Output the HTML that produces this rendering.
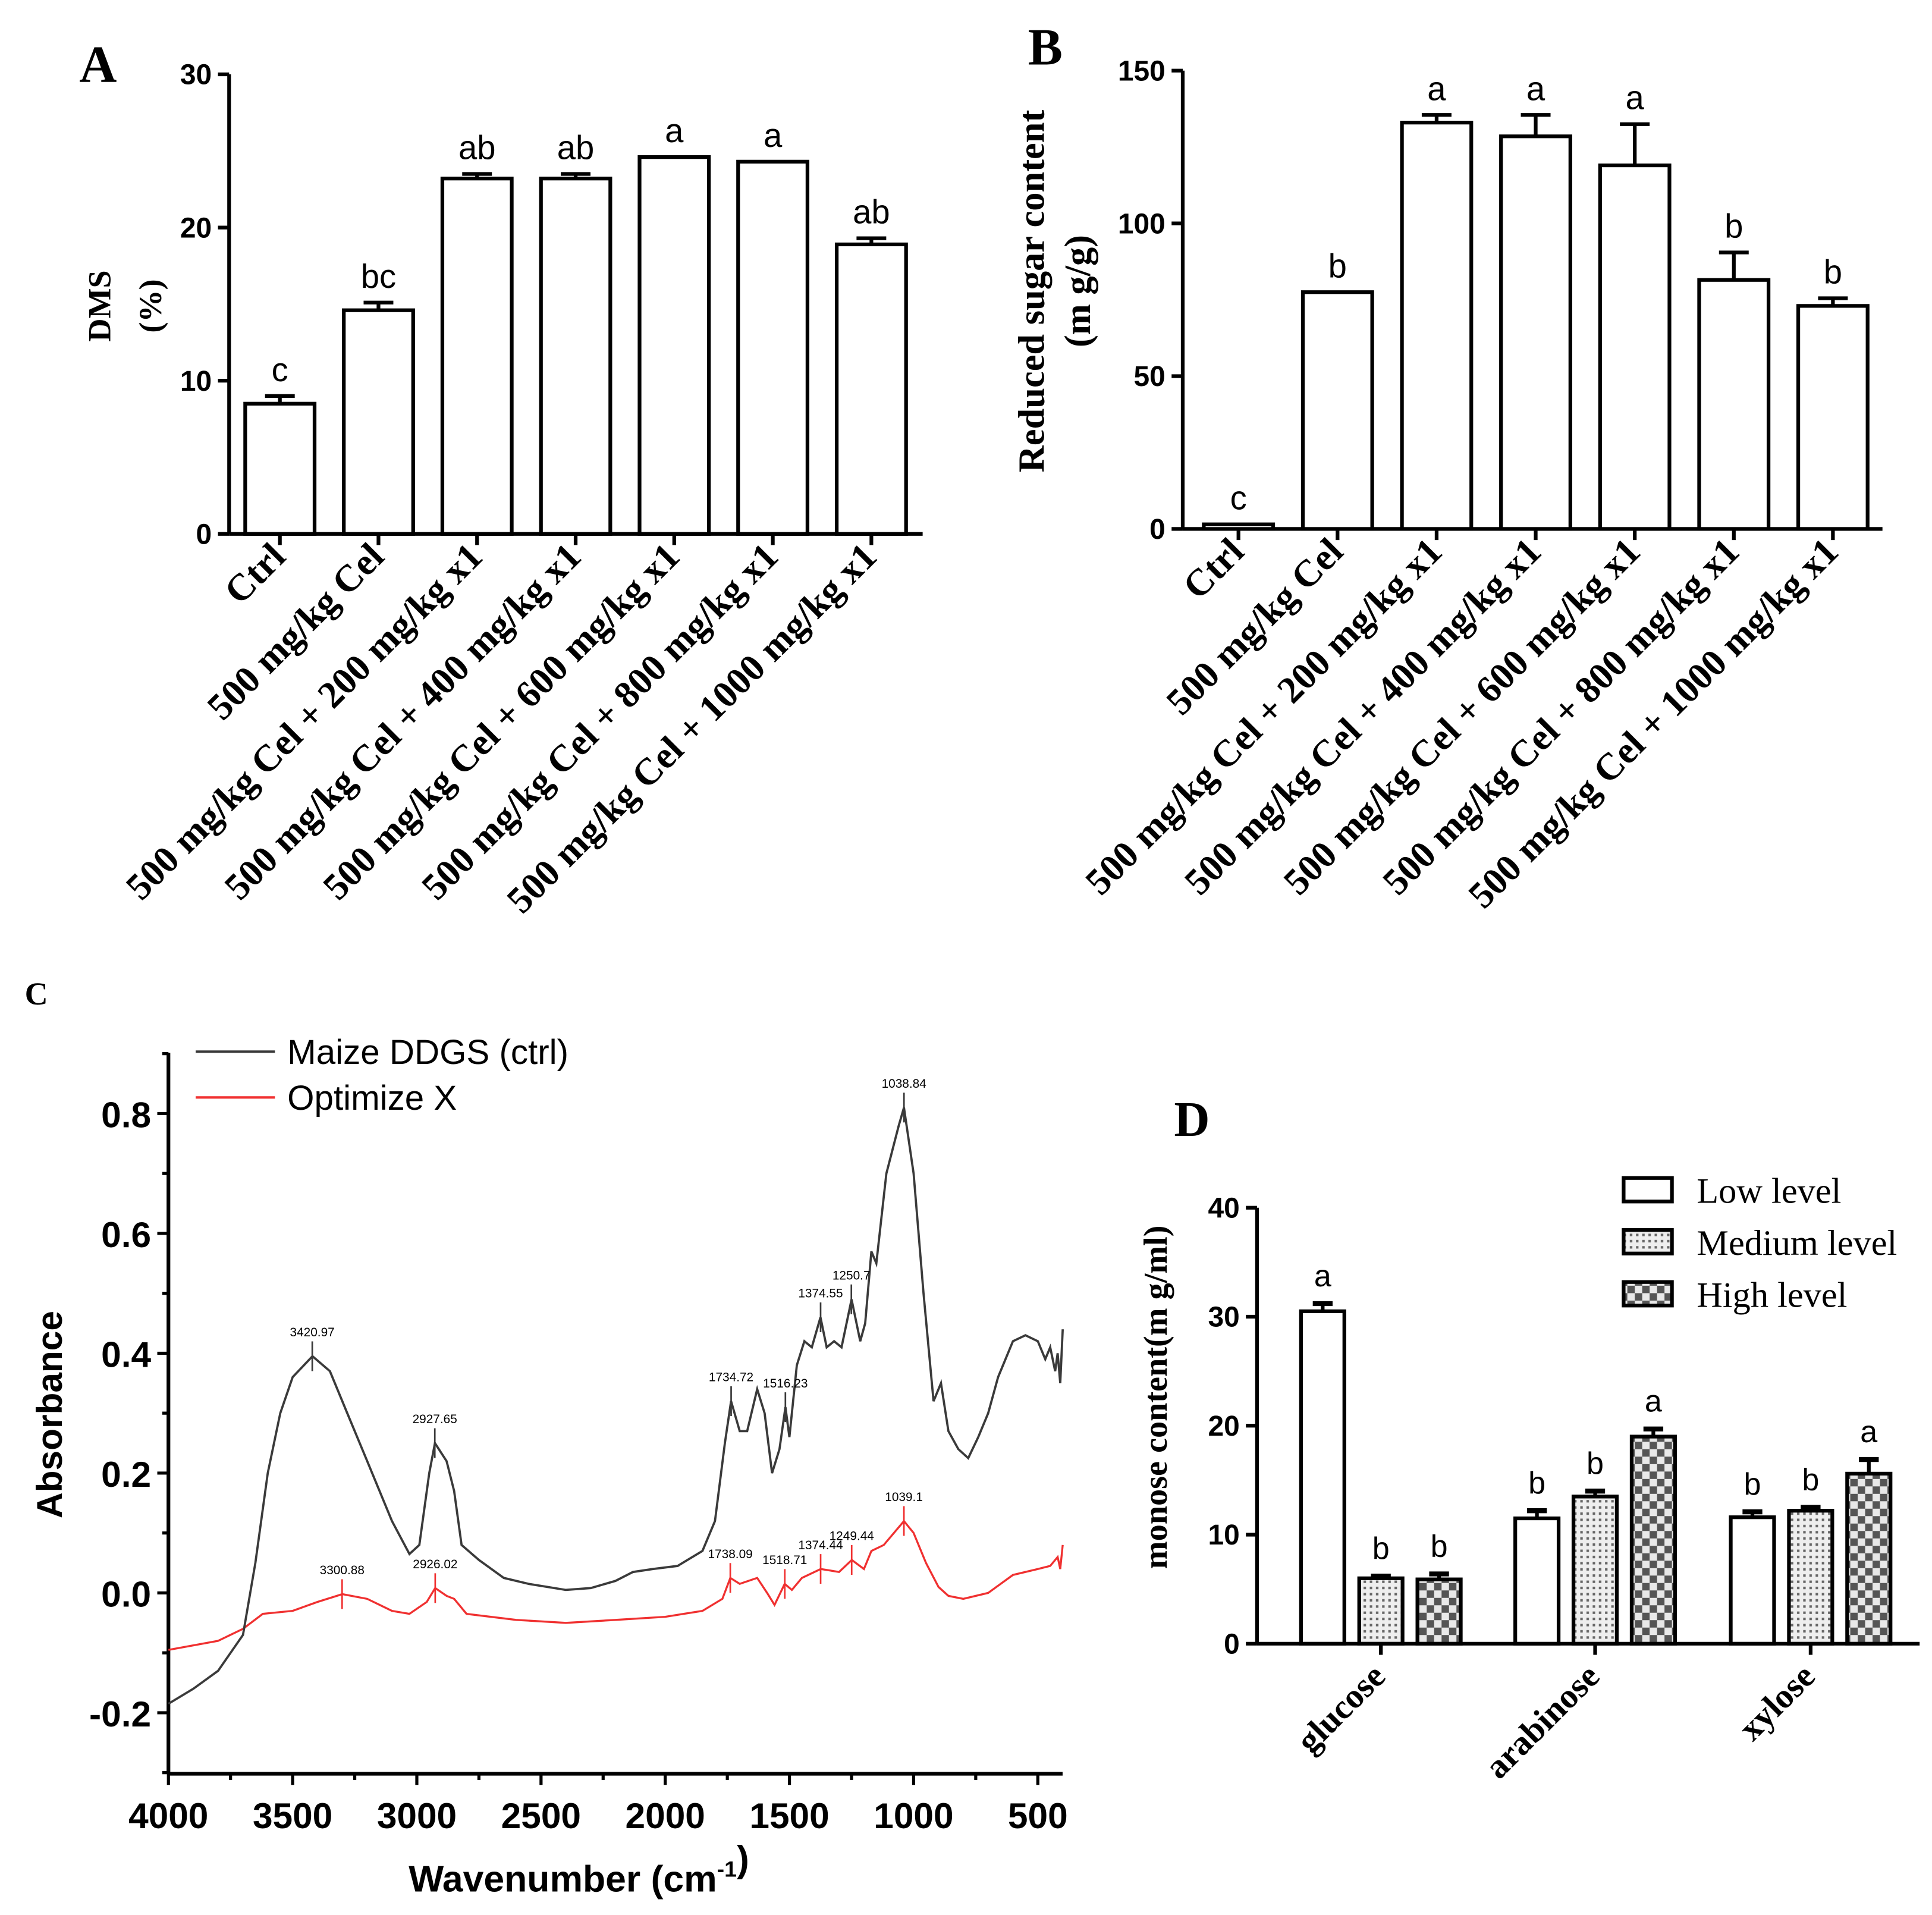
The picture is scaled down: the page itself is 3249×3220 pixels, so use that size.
<!DOCTYPE html>
<html><head><meta charset="utf-8">
<style>
html,body{margin:0;padding:0;background:#fff;}
svg{display:block;}
</style></head>
<body>
<svg id="fig" xmlns="http://www.w3.org/2000/svg" width="3249" height="3220" viewBox="0 0 1560 1546">
<defs>
<pattern id="patMed" patternUnits="userSpaceOnUse" width="5" height="5">
<rect width="5" height="5" fill="#eee"/><rect x="1" y="1" width="2" height="2" fill="#666"/>
</pattern>
<pattern id="patHigh" patternUnits="userSpaceOnUse" width="12" height="12">
<rect width="12" height="12" fill="#e8e8e8"/><rect x="0" y="0" width="6" height="6" fill="#555"/><rect x="6" y="6" width="6" height="6" fill="#555"/>
</pattern>
</defs>
<g id="root"></g>
</svg>
<script>
// ---- Panel A data ----
const catsAB = ["Ctrl","500 mg/kg Cel","500 mg/kg Cel + 200 mg/kg x1","500 mg/kg Cel + 400 mg/kg x1","500 mg/kg Cel + 600 mg/kg x1","500 mg/kg Cel + 800 mg/kg x1","500 mg/kg Cel + 1000 mg/kg x1"];
const valsA = [8.5,14.6,23.2,23.2,24.6,24.3,18.9];
const errA = [0.5,0.5,0.3,0.3,0,0,0.4];
const lettersA = ["c","bc","ab","ab","a","a","ab"];
const ticksA = [0,10,20,30];
// ---- Panel B data ----
const valsB = [1.5,77.5,133,128.5,119,81.5,73];
const errB = [0,0,2.5,7,13.5,9,2.5];
const lettersB = ["c","b","a","a","a","b","b"];
const ticksB = [0,50,100,150];
// ---- Panel C data ----
const ticksCx = [4000,3500,3000,2500,2000,1500,1000,500];
const ticksCy = [-0.2,0.0,0.2,0.4,0.6,0.8];
const ctrlWN = [4000,3900,3800,3700,3650,3600,3550,3500,3420,3350,3280,3200,3100,3030,2990,2950,2927,2880,2850,2820,2750,2650,2550,2400,2300,2200,2130,2050,1950,1850,1800,1760,1735,1700,1670,1630,1600,1570,1540,1516,1500,1470,1440,1410,1375,1350,1320,1290,1250,1215,1195,1170,1150,1110,1060,1039,1000,960,920,890,860,820,780,740,700,660,600,550,500,470,450,430,420,410,400];
const ctrlAbs = [-0.185,-0.16,-0.13,-0.07,0.05,0.2,0.3,0.36,0.395,0.37,0.3,0.22,0.12,0.065,0.08,0.2,0.25,0.22,0.17,0.08,0.055,0.025,0.015,0.005,0.008,0.02,0.035,0.04,0.045,0.07,0.12,0.25,0.32,0.27,0.27,0.34,0.3,0.2,0.24,0.31,0.26,0.38,0.42,0.41,0.46,0.41,0.42,0.41,0.49,0.42,0.45,0.57,0.55,0.7,0.78,0.81,0.7,0.5,0.32,0.35,0.27,0.24,0.225,0.26,0.3,0.36,0.42,0.43,0.42,0.39,0.41,0.37,0.4,0.35,0.44];
const optWN = [4000,3800,3700,3620,3500,3400,3300,3200,3100,3030,2960,2926,2880,2850,2800,2600,2400,2200,2000,1850,1770,1738,1700,1630,1590,1560,1519,1490,1450,1374,1300,1249,1200,1170,1120,1039,1000,950,900,860,800,700,600,500,450,420,410,400];
const optAbs = [-0.095,-0.08,-0.06,-0.035,-0.03,-0.015,-0.002,-0.01,-0.03,-0.035,-0.015,0.008,-0.005,-0.01,-0.035,-0.045,-0.05,-0.045,-0.04,-0.03,-0.01,0.025,0.015,0.025,0.0,-0.02,0.015,0.005,0.025,0.04,0.035,0.055,0.04,0.07,0.08,0.12,0.1,0.05,0.01,-0.005,-0.01,0.0,0.03,0.04,0.045,0.06,0.04,0.08];
const peaksCtrl = [3420.97,2927.65,1734.72,1516.23,1374.55,1250.7,1038.84];
const peaksCtrlY = [0.395,0.25,0.32,0.31,0.46,0.49,0.81];
const peaksOpt = [3300.88,2926.02,1738.09,1518.71,1374.44,1249.44,1039.1];
const peaksOptY = [-0.002,0.008,0.025,0.015,0.04,0.055,0.12];
// ---- Panel D data ----
const catsD = ["glucose","arabinose","xylose"];
const lowD = [30.5,11.5,11.6];
const medD = [6.0,13.5,12.2];
const highD = [5.9,19.0,15.6];
const lowErr = [0.7,0.7,0.5];
const medErr = [0.2,0.5,0.3];
const highErr = [0.5,0.7,1.3];
const lowLet = ["a","b","b"], medLet = ["b","b","b"], highLet = ["b","a","a"];
const ticksD = [0,10,20,30,40];

const NS = "http://www.w3.org/2000/svg";
const root = document.getElementById("root");
function mk(tag, attrs, parent, text){
  const e = document.createElementNS(NS, tag);
  for (const k in attrs) e.setAttribute(k, attrs[k]);
  if (text !== undefined) e.textContent = text;
  (parent||root).appendChild(e);
  return e;
}
const SANS='"Liberation Sans",Arial,sans-serif', SERIF='"Liberation Serif","Times New Roman",serif';

function barPanel(o){
  const g = mk("g",{});
  
  
  const y = v => o.y0 - v * (o.y0 - o.yTop) / o.yMax;
  const ya = mk("line",{x1:o.ax,y1:o.yTop,x2:o.ax,y2:o.y0,stroke:"#000","stroke-width":3},g);
  
  
  const xa = mk("line",{x1:o.ax,y1:o.y0,x2:o.axEnd,y2:o.y0,stroke:"#000","stroke-width":3},g);
  
  
  o.ticks.forEach(t=>{
    mk("line",{x1:o.ax-9,y1:y(t),x2:o.ax,y2:y(t),stroke:"#000","stroke-width":3},g);
    const tl = mk("text",{x:o.ax-14,y:y(t)+8,"text-anchor":"end","font-family":SANS,"font-weight":"bold","font-size":23},g,String(t));
    
    
  });
  o.vals.forEach((v,i)=>{
    const cx = o.x0 + i*o.step;
    const b = mk("rect",{x:cx-o.bw/2,y:y(v),width:o.bw,height:o.y0-y(v),fill:"#fff",stroke:"#000","stroke-width":3},g);
    
    
    if (o.err[i]>0){
      mk("line",{x1:cx,y1:y(v),x2:cx,y2:y(v+o.err[i]),stroke:"#000","stroke-width":3},g);
      mk("line",{x1:cx-12,y1:y(v+o.err[i]),x2:cx+12,y2:y(v+o.err[i]),stroke:"#000","stroke-width":3},g);
    }
    const lt = mk("text",{x:cx,y:y(v+o.err[i])-12,"text-anchor":"middle","font-family":SANS,"font-size":27},g,o.letters[i]);
    
    
    mk("line",{x1:cx,y1:o.y0,x2:cx,y2:o.y0+9,stroke:"#000","stroke-width":3},g);
    const cl = mk("text",{transform:`translate(${cx+6},${o.y0+20}) rotate(-45)`,"text-anchor":"end","font-family":SERIF,"font-weight":"bold","font-size":30.5},g,o.cats[i]);
    
    
  });
  return g;
}

barPanel({name:"panel-a-chart",ax:185,axEnd:745,yTop:60,y0:431,yMax:30,ticks:ticksA,vals:valsA,err:errA,letters:lettersA,cats:catsAB,x0:226,step:79.6,bw:56});
let t;
t = mk("text",{x:64,y:66,"font-family":SERIF,"font-weight":"bold","font-size":42},root,"A");
 
t = mk("text",{transform:"translate(89,247) rotate(-90)","text-anchor":"middle","font-family":SERIF,"font-weight":"bold","font-size":26},root,"DMS");
 
t = mk("text",{transform:"translate(130,247) rotate(-90)","text-anchor":"middle","font-family":SERIF,"font-weight":"bold","font-size":26},root,"(%)");
 

barPanel({name:"panel-b-chart",ax:955,axEnd:1520,yTop:57,y0:427,yMax:150,ticks:ticksB,vals:valsB,err:errB,letters:lettersB,cats:catsAB,x0:1000,step:80,bw:56});
t = mk("text",{x:830,y:52,"font-family":SERIF,"font-weight":"bold","font-size":42},root,"B");
 
t = mk("text",{transform:"translate(843,235) rotate(-90)","text-anchor":"middle","font-family":SERIF,"font-weight":"bold","font-size":30},root,"Reduced sugar content");
 
t = mk("text",{transform:"translate(880,235) rotate(-90)","text-anchor":"middle","font-family":SERIF,"font-weight":"bold","font-size":30},root,"(m g/g)");
 

// Panel C
(function(){
  const g = mk("g",{});
  
  
  const L=136, R=858, B=1432, T=850;
  const xs = w => L + (4000 - w) * (838-136)/3500;
  const ys = a => 1286 - a * (1286-899)/0.8;
  let e = mk("line",{x1:L,y1:T,x2:L,y2:B,stroke:"#000","stroke-width":3},g);
   
  e = mk("line",{x1:L,y1:B,x2:R,y2:B,stroke:"#000","stroke-width":3},g);
   
  for (let k=-3; k<=9; k++){
    const v=k/10, major = Math.abs(k)%2===0;
    mk("line",{x1:L-(major?9:5),y1:ys(v),x2:L,y2:ys(v),stroke:"#000","stroke-width":2.5},g);
  }
  ticksCy.forEach(v=>{
    const tl = mk("text",{x:L-14,y:ys(v)+11,"text-anchor":"end","font-family":SANS,"font-weight":"bold","font-size":29},g,v.toFixed(1));
     
  });
  for (let w=4000; w>=400; w-=250){
    const major = w%500===0;
    mk("line",{x1:xs(w),y1:B,x2:xs(w),y2:B+(major?9:5),stroke:"#000","stroke-width":2.5},g);
  }
  ticksCx.forEach(w=>{
    const tl = mk("text",{x:xs(w),y:B+44,"text-anchor":"middle","font-family":SANS,"font-weight":"bold","font-size":29},g,String(w));
     
  });
  const path = (wn,ab) => wn.map((w,i)=>(i?"L":"M")+xs(w).toFixed(1)+","+ys(ab[i]).toFixed(1)).join("");
  e = mk("path",{d:path(optWN,optAbs),fill:"none",stroke:"#f03030","stroke-width":1.6},g);
   
  e = mk("path",{d:path(ctrlWN,ctrlAbs),fill:"none",stroke:"#3a3a3a","stroke-width":1.8},g);
   
  function peaks(ws,as,col,nm){
    ws.forEach((w,i)=>{
      mk("line",{x1:xs(w),y1:ys(as[i])-12,x2:xs(w),y2:ys(as[i])+12,stroke:col,"stroke-width":1.3},g);
      const tl = mk("text",{x:xs(w),y:ys(as[i])-16,"text-anchor":"middle","font-family":SANS,"font-size":10},g,String(w));
       
    });
  }
  peaks(peaksCtrl,peaksCtrlY,"#3a3a3a","peak-label-ctrl");
  peaks(peaksOpt,peaksOptY,"#f03030","peak-label-optimize");
  e = mk("line",{x1:158,y1:849,x2:222,y2:849,stroke:"#3a3a3a","stroke-width":2},g);
   
  e = mk("text",{x:232,y:859,"font-family":SANS,"font-size":28},g,"Maize DDGS (ctrl)");
   
  e = mk("line",{x1:158,y1:886,x2:222,y2:886,stroke:"#f03030","stroke-width":2},g);
   
  e = mk("text",{x:232,y:896,"font-family":SANS,"font-size":28},g,"Optimize X");
   
  e = mk("text",{transform:"translate(50,1142) rotate(-90)","text-anchor":"middle","font-family":SANS,"font-weight":"bold","font-size":29},g,"Absorbance");
   
  e = mk("text",{x:330,y:1527,"font-family":SANS,"font-weight":"bold","font-size":30},g);
   
  mk("tspan",{},e,"Wavenumber  (cm");
  mk("tspan",{dy:-12,"font-size":18},e,"-1");
  mk("tspan",{dy:-4},e,")");
})();
t = mk("text",{x:20,y:811,"font-family":SERIF,"font-weight":"bold","font-size":26},root,"C");
 

// Panel D
(function(){
  const g = mk("g",{});
  
  
  const ax=1015, axEnd=1550, y0=1327, yTop=975, yMax=40;
  const y = v => y0 - v*(y0-yTop)/yMax;
  let e = mk("line",{x1:ax,y1:yTop,x2:ax,y2:y0,stroke:"#000","stroke-width":3},g);
   
  e = mk("line",{x1:ax,y1:y0,x2:axEnd,y2:y0,stroke:"#000","stroke-width":3},g);
   
  ticksD.forEach(t=>{
    mk("line",{x1:ax-9,y1:y(t),x2:ax,y2:y(t),stroke:"#000","stroke-width":3},g);
    const tl = mk("text",{x:ax-14,y:y(t)+8,"text-anchor":"end","font-family":SANS,"font-weight":"bold","font-size":23},g,String(t));
     
  });
  const series = [[lowD,lowErr,lowLet,"#fff","low"],[medD,medErr,medLet,"url(#patMed)","medium"],[highD,highErr,highLet,"url(#patHigh)","high"]];
  const centers = [1115,1288,1462], off=47, bw=35;
  catsD.forEach((c,i)=>{
    series.forEach((s,j)=>{
      const cx = centers[i] + (j-1)*off, v=s[0][i], er=s[1][i];
      const b = mk("rect",{x:cx-bw/2,y:y(v),width:bw,height:y0-y(v),fill:s[3],stroke:"#000","stroke-width":3},g);
      
      
      mk("line",{x1:cx,y1:y(v),x2:cx,y2:y(v+er),stroke:"#000","stroke-width":3},g);
      mk("line",{x1:cx-8,y1:y(v+er),x2:cx+8,y2:y(v+er),stroke:"#000","stroke-width":4},g);
      const lt = mk("text",{x:cx,y:y(v+er)-14,"text-anchor":"middle","font-family":SANS,"font-size":25},g,s[2][i]);
       
    });
    mk("line",{x1:centers[i],y1:y0,x2:centers[i],y2:y0+9,stroke:"#000","stroke-width":3},g);
    const cl = mk("text",{transform:`translate(${centers[i]+5},${y0+28}) rotate(-45)`,"text-anchor":"end","font-family":SERIF,"font-weight":"bold","font-size":28},g,c);
     
  });
  const leg = [["Low level","#fff",961],["Medium level","url(#patMed)",1003],["High level","url(#patHigh)",1045]];
  leg.forEach(l=>{
    const r = mk("rect",{x:1311,y:l[2]-10,width:39,height:19,fill:l[1],stroke:"#000","stroke-width":3},g);
     
    const lt = mk("text",{x:1370,y:l[2]+10,"font-family":SERIF,"font-size":29},g,l[0]);
     
  });
  e = mk("text",{transform:"translate(942,1128) rotate(-90)","text-anchor":"middle","font-family":SERIF,"font-weight":"bold","font-size":27},g,"monose content(m g/ml)");
   
})();
t = mk("text",{x:948,y:917,"font-family":SERIF,"font-weight":"bold","font-size":40},root,"D");
 
</script>
</body></html>
